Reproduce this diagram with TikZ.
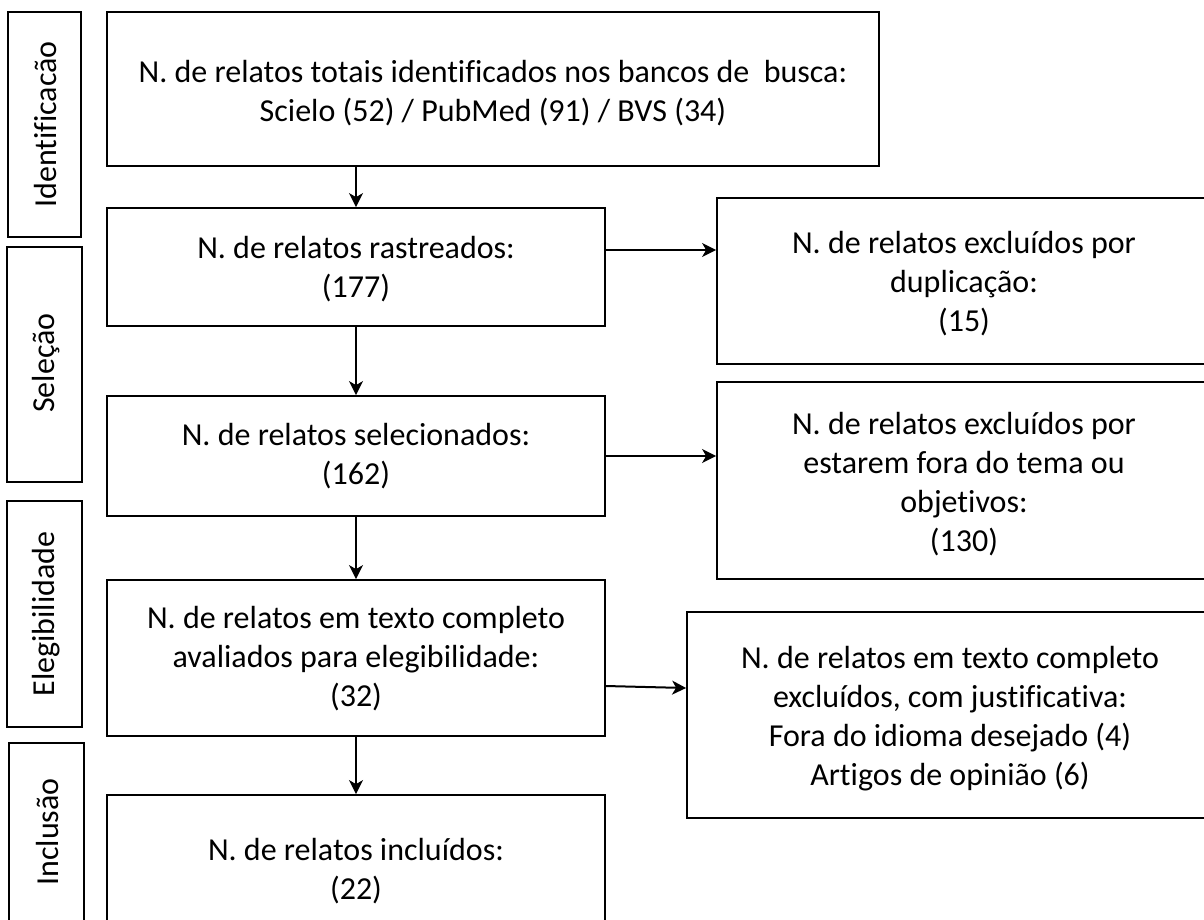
\documentclass[tikz,border=0pt]{standalone}
\usepackage{fontspec}
\setmainfont{Carlito}[Ligatures=CommonOff]
\usetikzlibrary{arrows.meta,calc}
\begin{document}
\begin{tikzpicture}[x=1pt,y=-1pt,
  box/.style={draw, line width=1.8pt, inner sep=0pt},
  txt/.style={align=center, font=\fontsize{32}{39}\selectfont, inner sep=0pt},
  vtxt/.style={rotate=90, font=\fontsize{32}{38}\selectfont, inner sep=0pt},
  arr/.style={line width=2pt, -{Stealth[length=14pt,width=14pt,inset=4pt]}}]
\useasboundingbox (0,0) rectangle (1204,919);
% stage boxes
\node[box, minimum width=73pt, minimum height=225pt] (L1) at (44.5,124.5) {};
\node[box, minimum width=75pt, minimum height=235pt] (L2) at (44.5,364.5) {};
\node[box, minimum width=75pt, minimum height=226pt] (L3) at (44.5,614) {};
\node[box, minimum width=75pt, minimum height=178pt] (L4) at (46.5,832) {};
\node[vtxt] (tL1) at (46,124.5) {Identificacão};
\node[vtxt] (tL2) at (46,363) {Seleção};
\node[vtxt] (tL3) at (46,614) {Elegibilidade};
\node[vtxt] (tL4) at (48,832) {Inclusão};
% main boxes
\node[box, minimum width=772pt, minimum height=154pt] (B1) at (493,89) {};
\node[box, minimum width=498pt, minimum height=118pt] (B2) at (356,267) {};
\node[box, minimum width=498pt, minimum height=120pt] (B3) at (356,456) {};
\node[box, minimum width=498pt, minimum height=156pt] (B4) at (356,658) {};
\node[box, minimum width=498pt, minimum height=152pt] (B5) at (356,871) {};
% right boxes
\node[box, minimum width=493pt, minimum height=166pt] (R1) at (963.5,281) {};
\node[box, minimum width=493pt, minimum height=197pt] (R2) at (963.5,480.5) {};
\node[box, minimum width=523pt, minimum height=206pt] (R3) at (948.5,715) {};
% texts
\node[txt] (tB1) at (493,93) {N. de relatos totais identificados nos bancos de\ \ busca:\\Scielo (52) / PubMed (91) / BVS (34)};
\node[txt] (tB2) at (356,269) {N. de relatos rastreados:\\(177)};
\node[txt] (tB3) at (356,456) {N. de relatos selecionados:\\(162)};
\node[txt] (tB4) at (356,659) {N. de relatos em texto completo\\avaliados para elegibilidade:\\(32)};
\node[txt] (tB5) at (356,871) {N. de relatos incluídos:\\(22)};
\node[txt] (tR1) at (964,284) {N. de relatos excluídos por\\duplicação:\\(15)};
\node[txt] (tR2) at (964,484) {N. de relatos excluídos por\\estarem fora do tema ou\\objetivos:\\(130)};
\node[txt] (tR3) at (950,719) {N. de relatos em texto completo\\excluídos, com justificativa:\\Fora do idioma desejado (4)\\Artigos de opinião (6)};
% arrows
\draw[arr] (B2.north |- B1.south) -- (B2.north);
\draw[arr] (B2.south) -- (B3.north);
\draw[arr] (B3.south) -- (B4.north);
\draw[arr] (B4.south) -- (B5.north);
\draw[arr] ([yshift=17pt]B2.east) -- ([yshift=17pt]B2.east -| R1.west);
\draw[arr] (B3.east) -- (B3.east -| R2.west);
\draw[arr] ([yshift=-28pt]B4.east) -- ([yshift=-30pt]B4.east -| R3.west);
\end{tikzpicture}
\end{document}
